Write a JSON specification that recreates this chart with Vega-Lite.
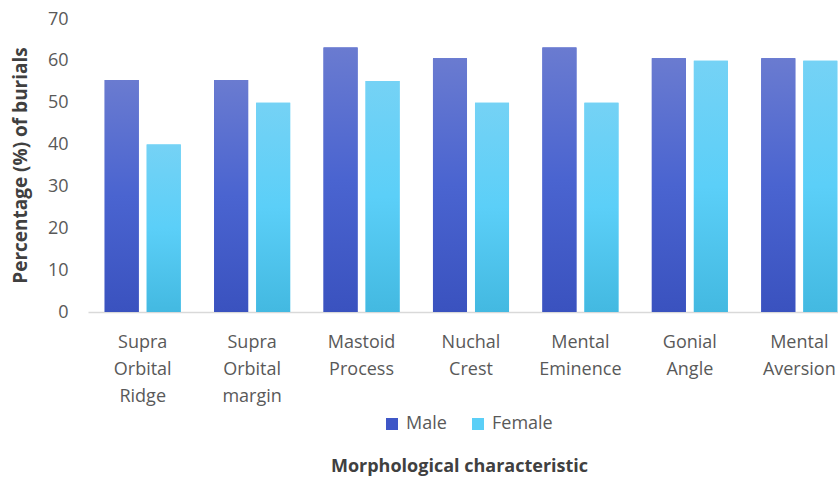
{
  "$schema": "https://vega.github.io/schema/vega-lite/v6.json",
  "autosize": {"type": "none"},
  "width": 750,
  "height": 293,
  "padding": {"left": 88, "top": 19, "right": 0, "bottom": 165},
  "background": "white",
  "config": {"view": {"stroke": null}, "font": "Open Sans"},
  "data": {"values": [
    {"Feature": "Supra Orbital Ridge", "Sex": "Male", "Value": 55.4},
    {"Feature": "Supra Orbital Ridge", "Sex": "Female", "Value": 40},
    {"Feature": "Supra Orbital margin", "Sex": "Male", "Value": 55.4},
    {"Feature": "Supra Orbital margin", "Sex": "Female", "Value": 50},
    {"Feature": "Mastoid Process", "Sex": "Male", "Value": 63.2},
    {"Feature": "Mastoid Process", "Sex": "Female", "Value": 55.2},
    {"Feature": "Nuchal Crest", "Sex": "Male", "Value": 60.6},
    {"Feature": "Nuchal Crest", "Sex": "Female", "Value": 50},
    {"Feature": "Mental Eminence", "Sex": "Male", "Value": 63.2},
    {"Feature": "Mental Eminence", "Sex": "Female", "Value": 50},
    {"Feature": "Gonial Angle", "Sex": "Male", "Value": 60.6},
    {"Feature": "Gonial Angle", "Sex": "Female", "Value": 60},
    {"Feature": "Mental Aversion", "Sex": "Male", "Value": 60.6},
    {"Feature": "Mental Aversion", "Sex": "Female", "Value": 60}
  ]},
  "encoding": {
    "x": {
      "field": "Feature", "type": "nominal", "sort": null,
      "scale": {"range": [0, 766], "paddingInner": 0.305, "paddingOuter": 0.1525},
      "axis": {
        "title": "Morphological characteristic",
        "titleFont": "Open Sans", "titleFontSize": 18, "titleFontWeight": "bold", "titleColor": "#404040",
        "titleBaseline": "alphabetic", "titleY": 159, "titleX": 371, "titleAnchor": "middle", "titleAlign": "center",
        "labelAngle": 0, "labelFont": "Open Sans", "labelFontSize": 18, "labelColor": "#595959",
        "labelExpr": "split(datum.label, ' ')", "labelLineHeight": 27, "labelBaseline": "top",
        "labelPadding": 21, "ticks": false, "domainColor": "#d9d9d9", "domainWidth": 1.5,
        "labelLimit": 200
      }
    },
    "xOffset": {"field": "Sex", "type": "nominal", "sort": ["Male", "Female"], "scale": {"paddingInner": 0.19, "paddingOuter": 0}},
    "y": {
      "field": "Value", "type": "quantitative",
      "scale": {"domain": [0, 70], "nice": false},
      "axis": {
        "title": "Percentage (%) of burials",
        "titleFont": "Open Sans", "titleFontSize": 19, "titleFontWeight": "bold", "titleColor": "#404040",
        "titleX": -58, "titleY": 146, "titleAnchor": "middle",
        "values": [0, 10, 20, 30, 40, 50, 60, 70],
        "labelFont": "Open Sans", "labelFontSize": 18, "labelColor": "#595959", "labelPadding": 20,
        "ticks": false, "domain": false, "grid": false
      }
    }
  },
  "layer": [
    {
      "mark": {"type": "bar"},
      "encoding": {
        "color": {
          "field": "Sex", "type": "nominal", "sort": ["Male", "Female"],
          "scale": {"domain": ["Male", "Female"], "range": ["#3f57c7", "#5bcff7"]},
          "legend": {
            "title": null, "orient": "none", "legendX": 295, "legendY": 396, "direction": "horizontal",
            "symbolType": "square", "symbolSize": 144, "symbolStrokeWidth": 0,
            "labelFont": "Open Sans", "labelFontSize": 18, "labelColor": "#595959",
            "columnPadding": 22, "padding": 0, "labelOffset": 5
          }
        }
      }
    },
    {
      "mark": {"type": "bar"},
      "encoding": {
        "fill": {
          "condition": {"test": "datum.Sex === 'Male'", "value": {"gradient": "linear", "x1": 0, "y1": 0, "x2": 0, "y2": 1, "stops": [{"offset": 0, "color": "#6a7bd0"}, {"offset": 0.5, "color": "#4a64d0"}, {"offset": 1, "color": "#3a52bf"}]}},
          "value": {"gradient": "linear", "x1": 0, "y1": 0, "x2": 0, "y2": 1, "stops": [{"offset": 0, "color": "#75d2f5"}, {"offset": 0.5, "color": "#5bcff8"}, {"offset": 1, "color": "#43b9e1"}]}
        }
      }
    }
  ]
}
